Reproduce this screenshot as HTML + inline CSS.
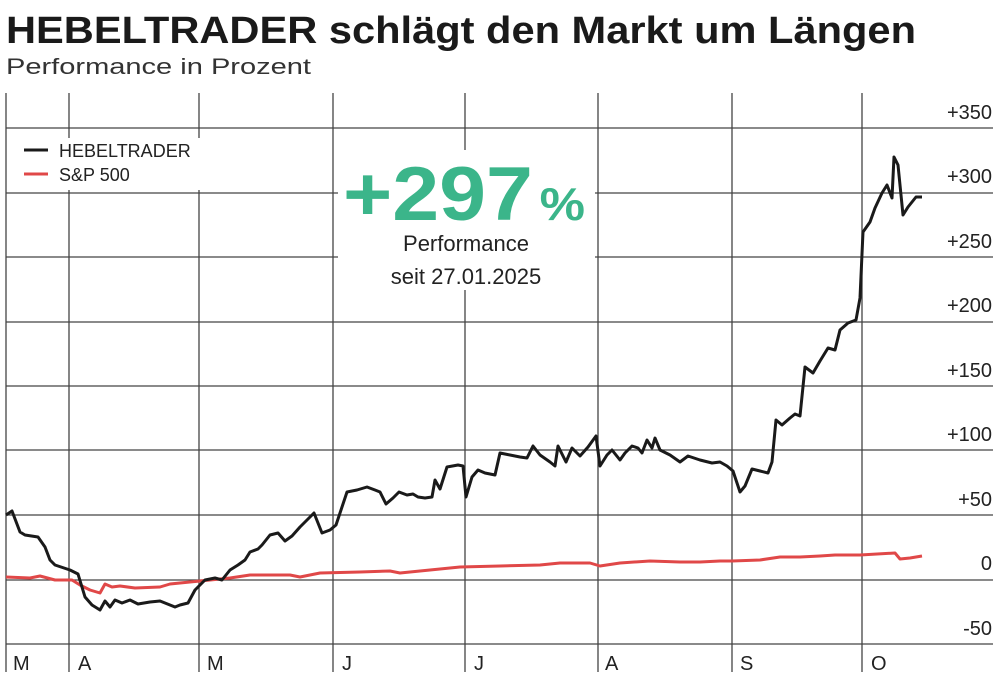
<!DOCTYPE html>
<html><head><meta charset="utf-8"><style>
body{margin:0;background:#fff;width:1000px;height:680px;overflow:hidden;font-family:"Liberation Sans",sans-serif}
</style></head><body>
<svg width="1000" height="680" viewBox="0 0 1000 680" xmlns="http://www.w3.org/2000/svg" font-family="Liberation Sans, sans-serif">
<text x="6" y="43" font-size="38" font-weight="bold" fill="#1a1a1a" textLength="910" lengthAdjust="spacingAndGlyphs">HEBELTRADER schlägt den Markt um Längen</text>
<text x="6" y="74" font-size="22" fill="#333" textLength="305" lengthAdjust="spacingAndGlyphs">Performance in Prozent</text>
<g stroke="#444" stroke-width="1.3">
<line x1="6" y1="128" x2="993" y2="128"/><line x1="6" y1="193" x2="993" y2="193"/>
<line x1="6" y1="257" x2="993" y2="257"/><line x1="6" y1="322" x2="993" y2="322"/>
<line x1="6" y1="386" x2="993" y2="386"/><line x1="6" y1="450" x2="993" y2="450"/>
<line x1="6" y1="515" x2="993" y2="515"/><line x1="6" y1="580" x2="993" y2="580"/>
<line x1="6" y1="644" x2="993" y2="644"/>
<line x1="6" y1="93" x2="6" y2="672"/><line x1="69" y1="93" x2="69" y2="672"/>
<line x1="199" y1="93" x2="199" y2="672"/><line x1="333" y1="93" x2="333" y2="672"/>
<line x1="465" y1="93" x2="465" y2="672"/><line x1="598" y1="93" x2="598" y2="672"/>
<line x1="732" y1="93" x2="732" y2="672"/><line x1="862" y1="93" x2="862" y2="672"/>
</g>
<rect x="20" y="138" width="180" height="52" fill="#fff"/>
<rect x="338" y="150" width="257" height="140" fill="#fff"/>
<line x1="24" y1="150" x2="48" y2="150" stroke="#1a1a1a" stroke-width="3"/>
<line x1="24" y1="174" x2="48" y2="174" stroke="#e04848" stroke-width="3"/>
<text x="59" y="157" font-size="18" fill="#222">HEBELTRADER</text>
<text x="59" y="181" font-size="18" fill="#222">S&amp;P 500</text>
<text x="343" y="220" font-weight="bold" fill="#3bb58a" textLength="242" lengthAdjust="spacingAndGlyphs"><tspan font-size="76">+297</tspan><tspan font-size="46" dx="6">%</tspan></text>
<text x="466" y="251" text-anchor="middle" font-size="22" fill="#222">Performance</text>
<text x="466" y="284" text-anchor="middle" font-size="22" fill="#222">seit 27.01.2025</text>
<g font-size="20" fill="#222" text-anchor="end">
<text x="992" y="119">+350</text><text x="992" y="183">+300</text><text x="992" y="248">+250</text>
<text x="992" y="312">+200</text><text x="992" y="377">+150</text><text x="992" y="441">+100</text>
<text x="992" y="506">+50</text><text x="992" y="570">0</text><text x="992" y="635">-50</text>
</g>
<g font-size="20" fill="#222">
<text x="13" y="670">M</text><text x="78" y="670">A</text><text x="207" y="670">M</text>
<text x="342" y="670">J</text><text x="474" y="670">J</text><text x="605" y="670">A</text>
<text x="740" y="670">S</text><text x="871" y="670">O</text>
</g>
<polyline fill="none" stroke="#e04848" stroke-width="3" stroke-linejoin="round" points="6,577 30,578 40,576 55,580 72,580 80,585 90,590 100,593 105,584 112,587 120,586 135,588 160,587 170,584 190,582 210,580 230,578 250,575 290,575 300,577 320,573 360,572 390,571 400,573 430,570 460,567 500,566 540,565 560,563 590,563 600,566 620,563 650,561 680,562 700,562 720,561 732,561 760,560 780,557 800,557 820,556 835,555 860,555 895,553 900,559 910,558 922,556"/>
<polyline fill="none" stroke="#1a1a1a" stroke-width="3" stroke-linejoin="round" points="6,515 12,511 20,532 25,535 38,537 45,547 50,560 55,565 70,570 78,574 85,597 92,605 100,610 105,601 110,607 115,600 122,603 130,600 138,604 150,602 160,601 165,603 175,607 180,605 188,603 195,590 205,580 215,578 222,580 230,570 238,565 245,560 250,552 258,549 262,545 270,535 278,533 285,541 292,536 300,527 308,519 314,513 322,533 330,530 336,525 341,510 347,492 357,490 367,487 375,490 380,492 386,504 393,498 399,492 407,495 413,494 418,497 425,498 432,497 435,480 440,489 447,467 458,465 463,466 466,497 472,477 478,470 485,473 495,475 500,453 510,455 520,457 527,458 533,446 540,455 550,462 555,466 558,446 566,462 572,448 580,456 588,447 596,436 600,466 607,455 612,450 620,460 625,453 632,446 638,448 642,453 647,440 652,448 655,438 660,450 670,455 680,462 688,456 700,460 712,463 720,462 727,466 733,471 740,492 745,486 752,469 760,471 768,473 772,462 776,420 782,425 790,418 795,414 800,416 805,367 813,373 820,361 828,348 835,350 840,330 848,323 856,320 860,298 863,232 870,222 875,208 882,193 887,185 892,198 894,157 898,165 903,215 908,207 916,197 922,197"/>
</svg>
</body></html>
